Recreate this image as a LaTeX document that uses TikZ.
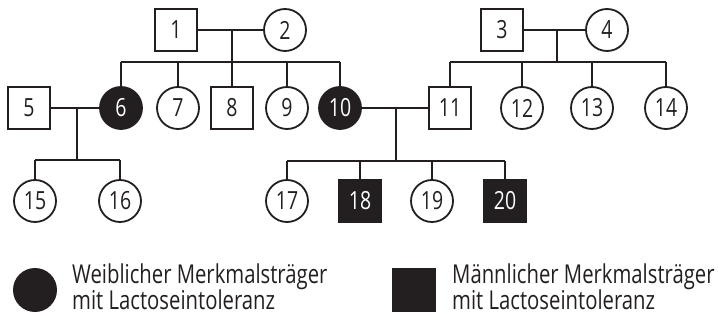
\documentclass[tikz,border=0pt]{standalone}
\usepackage{fontspec}
\setmainfont{Open Sans}[FakeStretch=0.78]
\definecolor{ink}{HTML}{231F20}
\begin{document}
\begin{tikzpicture}[x=1pt,y=-1pt,
  sq/.style={draw=ink,line width=1.8pt,minimum size=42pt,inner sep=0pt,font=\fontsize{25}{25}\selectfont,text=ink},
  ci/.style={sq,circle},
  aff/.style={fill=ink,text=white},
  ln/.style={draw=ink,line width=1.1pt},
  lnb/.style={draw=ink,line width=1.8pt},
  leg/.style={anchor=base west,inner sep=0pt,font=\fontsize{26}{26}\selectfont,text=ink}]
\useasboundingbox (0,0) rectangle (719,320);
% generation I
\node[sq] (n1) at (176,30) {1};
\node[ci] (n2) at (285,30) {2};
\node[sq] (n3) at (502,30) {3};
\node[ci] (n4) at (607,30) {4};
% generation II
\node[sq] (n5) at (29,108) {5};
\node[ci,aff] (n6) at (121,108) {6};
\node[ci] (n7) at (178,108) {7};
\node[sq] (n8) at (232,108) {8};
\node[ci] (n9) at (287,108) {9};
\node[ci,aff] (n10) at (340,108) {10};
\node[sq] (n11) at (450,108) {11};
\node[ci] (n12) at (522,108) {12};
\node[ci] (n13) at (592,108) {13};
\node[ci] (n14) at (666,108) {14};
% generation III
\node[ci] (n15) at (35,201) {15};
\node[ci] (n16) at (120,201) {16};
\node[ci] (n17) at (287,201) {17};
\node[sq,aff] (n18) at (360,201) {18};
\node[ci] (n19) at (432,201) {19};
\node[sq,aff] (n20) at (505,201) {20};
% coordinates
\coordinate (m12) at (232,30);
\coordinate (b12) at (232,62);
\coordinate (m34) at (557,30);
\coordinate (b34) at (557,62);
\coordinate (m56) at (77,108);
\coordinate (b56) at (77,160);
\coordinate (m1011) at (396,108);
\coordinate (b1011) at (396,161);
% family 1-2
\draw[ln] (n1) -- (n2);
\draw[ln] (m12) -- (b12);
\draw[ln] (n6|-b12) -- (n10|-b12);
\foreach \k in {6,7,8,9,10}{\draw[ln] (n\k|-b12) -- (n\k);}
% family 3-4
\draw[ln] (n3) -- (n4);
\draw[ln] (m34) -- (b34);
\draw[ln] (n11|-b34) -- (n14|-b34);
\foreach \k in {11,12,13,14}{\draw[ln] (n\k|-b34) -- (n\k);}
% family 5-6
\draw[lnb] (n5) -- (n6);
\draw[ln] (m56) -- (b56);
\draw[ln] (n15|-b56) -- (n16|-b56);
\foreach \k in {15,16}{\draw[ln] (n\k|-b56) -- (n\k);}
% family 10-11
\draw[ln] (n10) -- (n11);
\draw[ln] (m1011) -- (b1011);
\draw[ln] (n17|-b1011) -- (n20|-b1011);
\foreach \k in {17,18,19,20}{\draw[ln] (n\k|-b1011) -- (n\k);}
% legend
\node[circle,fill=ink,minimum size=44pt,inner sep=0pt] (lc) at (35,290) {};
\node[leg] (lt1) at (72,283) {Weiblicher Merkmalsträger};
\node[leg] (lt2) at (72,309) {mit Lactoseintoleranz};
\node[fill=ink,minimum size=44pt,inner sep=0pt] (ls) at (414,290) {};
\node[leg] (lt3) at (452,283) {Männlicher Merkmalsträger};
\node[leg] (lt4) at (452,309) {mit Lactoseintoleranz};
\end{tikzpicture}
\end{document}
